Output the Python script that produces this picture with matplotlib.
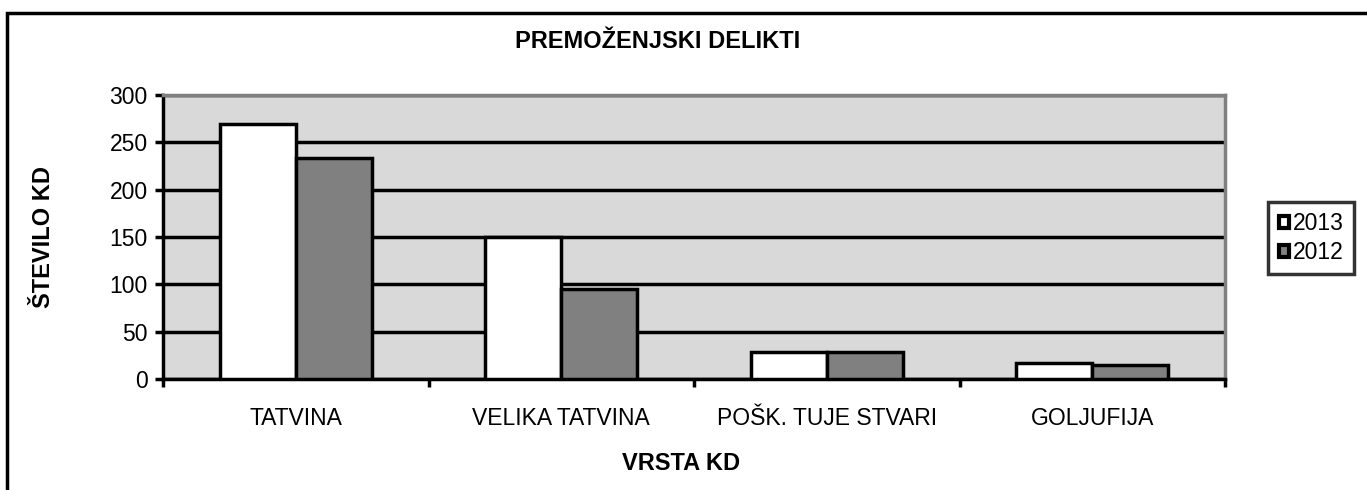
import numpy as np
import matplotlib.pyplot as plt
from matplotlib.patches import Rectangle

plt.rcParams['font.family'] = ['Liberation Sans', 'DejaVu Sans']

# data
categories = ['TATVINA', 'VELIKA TATVINA', 'POŠK. TUJE STVARI', 'GOLJUFIJA']
vals_2013 = [269, 150, 28, 17]
vals_2012 = [233, 95, 28, 15]
series_names = ['2013', '2012']
yticks = [0, 50, 100, 150, 200, 250, 300]

fig = plt.figure(figsize=(13.67, 4.9), dpi=100)
W, H = 1367, 490

# outer chart-area border (cropped on right and bottom)
fig.patches.append(Rectangle((7 / W, -0.1), 1.2, (H - 13) / H + 0.1,
                             transform=fig.transFigure, fill=False,
                             edgecolor='black', linewidth=2.5))

ax = fig.add_axes([163 / W, 1 - 379 / H, (1225 - 163) / W, (379 - 95) / H])
ax.set_facecolor('#d9d9d9')

x = np.arange(len(categories))
bw = 0.286
ax.bar(x - bw / 2, vals_2013, bw, color='white', edgecolor='black',
       linewidth=2.5, label=series_names[0], zorder=3)
ax.bar(x + bw / 2, vals_2012, bw, color='#808080', edgecolor='black',
       linewidth=2.5, label=series_names[1], zorder=3)

ax.set_xlim(-0.5, len(categories) - 0.5)
ax.set_ylim(0, 300)
ax.set_yticks(yticks)
ax.yaxis.grid(True, color='black', linewidth=2.5, zorder=1)
ax.set_axisbelow(True)

# category labels centred, ticks on boundaries
ax.set_xticks(np.arange(len(categories) + 1) - 0.5)
ax.set_xticklabels([])
ax.set_xticks(x, minor=True)
ax.set_xticklabels(categories, minor=True)
ax.tick_params(axis='x', which='minor', length=0, pad=20, labelsize=16.5)
ax.tick_params(axis='x', which='major', length=6, width=2.5, direction='out')
ax.tick_params(axis='y', length=6, width=2.5, direction='out', labelsize=16.5, pad=5)

for s in ['top', 'right']:
    ax.spines[s].set_color('#808080')
    ax.spines[s].set_linewidth(2.5)
for s in ['left', 'bottom']:
    ax.spines[s].set_color('black')
    ax.spines[s].set_linewidth(2.5)

fig.text(658 / W, 1 - 41 / H, 'PREMOŽENJSKI DELIKTI', ha='center', va='center',
         fontsize=17, fontweight='bold')
fig.text(681 / W, 1 - 463 / H, 'VRSTA KD', ha='center', va='center',
         fontsize=17, fontweight='bold')
fig.text(43 / W, 1 - 237 / H, 'ŠTEVILO KD', ha='center', va='center',
         rotation=90, fontsize=17, fontweight='bold')

leg = fig.legend(loc='center', bbox_to_anchor=(1311 / W, 1 - 238 / H),
                 fontsize=16.5, frameon=True, fancybox=False, edgecolor='black',
                 handlelength=0.45, handleheight=0.45, handletextpad=0.15,
                 borderpad=0.45, labelspacing=0.25, borderaxespad=0)
leg.get_frame().set_linewidth(2.5)
for p in leg.get_patches():
    p.set_linewidth(3)

fig.savefig('out.png', dpi=100)
